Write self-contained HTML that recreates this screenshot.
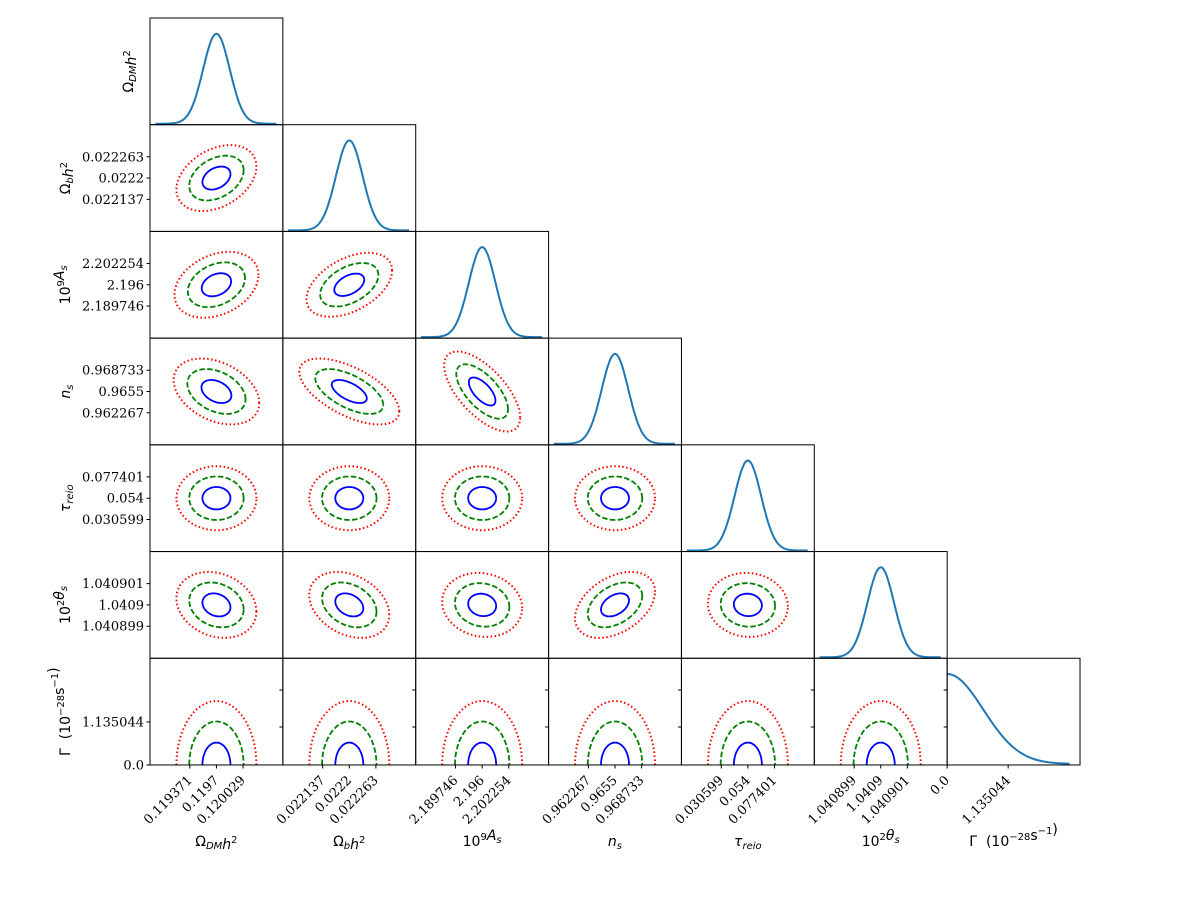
<!DOCTYPE html>
<html><head><meta charset="utf-8"><style>
html,body{margin:0;padding:0;background:#fff}
svg{display:block}
.tk{font-family:"DejaVu Serif","Liberation Serif",serif;font-size:13px;fill:#000}
.al{font-family:"DejaVu Sans","Liberation Sans",sans-serif;font-size:14px;fill:#000}
</style></head><body>
<svg id="chart" width="1200" height="900" xmlns="http://www.w3.org/2000/svg"></svg>
<script>
// ---- data ----
const params = ["omega_dm","omega_b","As","ns","tau","theta","gamma"];
const xTickLabels = [["0.119371","0.1197","0.120029"],["0.022137","0.0222","0.022263"],["2.189746","2.196","2.202254"],["0.962267","0.9655","0.968733"],["0.030599","0.054","0.077401"],["1.040899","1.0409","1.040901"],["0.0","1.135044"]];
const yTickLabels = [[],["0.022263","0.0222","0.022137"],["2.202254","2.196","2.189746"],["0.968733","0.9655","0.962267"],["0.077401","0.054","0.030599"],["1.040901","1.0409","1.040899"],["1.135044","0.0"]];
// correlation per lower panel [row][col]
const rho = [[],[0.35],[0.3,0.45],[-0.35,-0.6,-0.65],[0,0,0,0,0],[-0.2,-0.3,-0.1,0.4,-0.05],[0,0,0,0,0,0]];
// relative width (x) and height (y) of contours per panel
const relW = [[],[1.0],[1.05,1.07],[1.07,1.25,0.95],[1,1,1,1,1],[1,1,1,1,1],[1,1,1,1,1,1]];
const relH = [[],[1.03],[1.03,1.0],[1.03,1.03,1.25],[1,1,1,1,1],[1.03,1.03,1,1.03,1],[1,1,1,1,1,1]];
const levels = [0.35,0.68,1.0];   // contour sizes (relative to outer)
const levelColors = ["blue","green","red"];
const levelDash = ["none","5.5 2.4","1.5 2.5"];
// ---- layout ----
const svg=document.getElementById('chart');
const NS="http://www.w3.org/2000/svg";
const X0=150,Y0=18,PW=132.86,PH=106.71,N=7;
const SX=13.3, OUTX=40, OUTY=32, GAM_OUT=64, GAM_SIG=36, TICKX=26.6, TICKY=21.3;
function el(t,a,p){const e=document.createElementNS(NS,t);for(const k in a)e.setAttribute(k,a[k]);(p||svg).appendChild(e);return e;}
const px=i=>X0+i*PW, py=j=>Y0+j*PH;
const g=el('g',{});


for(let r=0;r<N;r++){for(let c=0;c<=r;c++){
  const x=px(c),y=py(r),cx=x+PW/2,cy=y+PH/2;
  const pg=el('g',{},g);
  
  
  if(r===c){
    let d='';
    if(r<6){for(let t=-4.6;t<=4.6;t+=0.1){const xx=cx+t*SX,yy=y+PH-1-90*Math.exp(-t*t/2);d+=(d?'L':'M')+xx.toFixed(1)+','+yy.toFixed(1);}}
    else{for(let t=0;t<=3.4;t+=0.05){const xx=x+t*GAM_SIG,yy=y+PH-1-90*Math.exp(-t*t/2);d+=(d?'L':'M')+xx.toFixed(1)+','+yy.toFixed(1);}}
    const p=el('path',{d:d,fill:'none',stroke:'#1f77b4','stroke-width':2},pg);
    
    
  } else {
    const cp=el('clipPath',{id:'cp'+r+c},pg);el('rect',{x:x,y:y,width:PW,height:PH},cp);
    for(let l=0;l<3;l++){
      let d='';
      const hw=OUTX*relW[r][c]*levels[l];
      if(r<6){
        const hh=OUTY*relH[r][c]*levels[l],p_=rho[r][c],q=Math.sqrt(1-p_*p_);
        for(let k=0;k<=120;k++){const t=k/120*2*Math.PI;const xx=cx+hw*Math.cos(t),yy=cy-hh*(p_*Math.cos(t)+q*Math.sin(t));d+=(k?'L':'M')+xx.toFixed(1)+','+yy.toFixed(1);}
      } else {
        const hh=GAM_OUT*levels[l],by=y+PH;
        for(let k=0;k<=60;k++){const t=k/60*Math.PI;const xx=cx-hw*Math.cos(t),yy=by-hh*Math.sin(t);d+=(k?'L':'M')+xx.toFixed(1)+','+yy.toFixed(1);}
      }
      const a={d:d,fill:'none',stroke:levelColors[l],'stroke-width':l===2?2:1.8,'clip-path':'url(#cp'+r+c+')'};
      if(levelDash[l]!=='none')a['stroke-dasharray']=levelDash[l];
      const e=el('path',a,pg);
      
      
    }
  }
  const fr=el('rect',{x:x,y:y,width:PW,height:PH,fill:'none',stroke:'#000','stroke-width':1},pg);
  
  
  if(c===0 && r>0){
    const labs=yTickLabels[r];
    labs.forEach((lab,i)=>{
      const yy = r<6 ? cy+(i-1)*TICKY : (i===0? y+PH-43 : y+PH);
      el('line',{x1:x-3.5,x2:x,y1:yy,y2:yy,stroke:'#000'},pg);
      const t=el('text',{x:x-6,y:yy+4.5,'text-anchor':'end',class:'tk'},pg);t.textContent=lab;
      
      
    });
  }
  if(r===6 && c>0){[690,727].forEach(yy=>el('line',{x1:x-3.5,x2:x,y1:yy,y2:yy,stroke:'#000'},pg));}
  if(r===6){
    const labs=xTickLabels[c];
    labs.forEach((lab,i)=>{
      const xx = c<6 ? cx+(i-1)*TICKX : x+i*61;
      el('line',{x1:xx,x2:xx,y1:y+PH,y2:y+PH+3.5,stroke:'#000'},pg);
      const t=el('text',{transform:'translate('+(xx+3)+','+(y+PH+16)+') rotate(-45)','text-anchor':'end',class:'tk'},pg);t.textContent=lab;
      
      
    });
  }
}}
</script>
<script>
const NS2="http://www.w3.org/2000/svg";const s2=document.getElementById('chart');
function lab(html,x,y,rot,name){const t=document.createElementNS(NS2,'text');t.setAttribute('class','al');t.setAttribute('text-anchor','middle');
 t.setAttribute('transform','translate('+x+','+y+')'+(rot?' rotate(-90)':''));t.innerHTML=html;s2.appendChild(t);}
const sub=s=>'<tspan font-size="10" dy="3" font-style="italic">'+s+'</tspan><tspan dy="-3"></tspan>';
const sup=s=>'<tspan font-size="10" dy="-6">'+s+'</tspan><tspan dy="6"></tspan>';
const labels=['Ω'+sub('DM')+'<tspan font-style="italic">h</tspan>'+sup('2'),
 'Ω'+sub('b')+'<tspan font-style="italic">h</tspan>'+sup('2'),
 '10'+sup('9')+'<tspan font-style="italic">A</tspan>'+sub('s'),
 '<tspan font-style="italic">n</tspan>'+sub('s'),
 '<tspan font-style="italic">τ</tspan>'+sub('reio'),
 '10'+sup('2')+'<tspan font-style="italic">θ</tspan>'+sub('s'),
 'Γ\u00a0\u00a0(10'+sup('−28')+'s'+sup('−1')+')'];
const names=['omega-dm','omega-b','as','ns','tau','theta','gamma'];
for(let i=0;i<7;i++){
 lab(labels[i],150+i*132.86+66.4,846,false,'x-axis-title-'+names[i]);
 lab(labels[i],i===0?133:70,18+i*106.71+53.4,true,'y-axis-title-'+names[i]);
}
</script>
</body></html>
